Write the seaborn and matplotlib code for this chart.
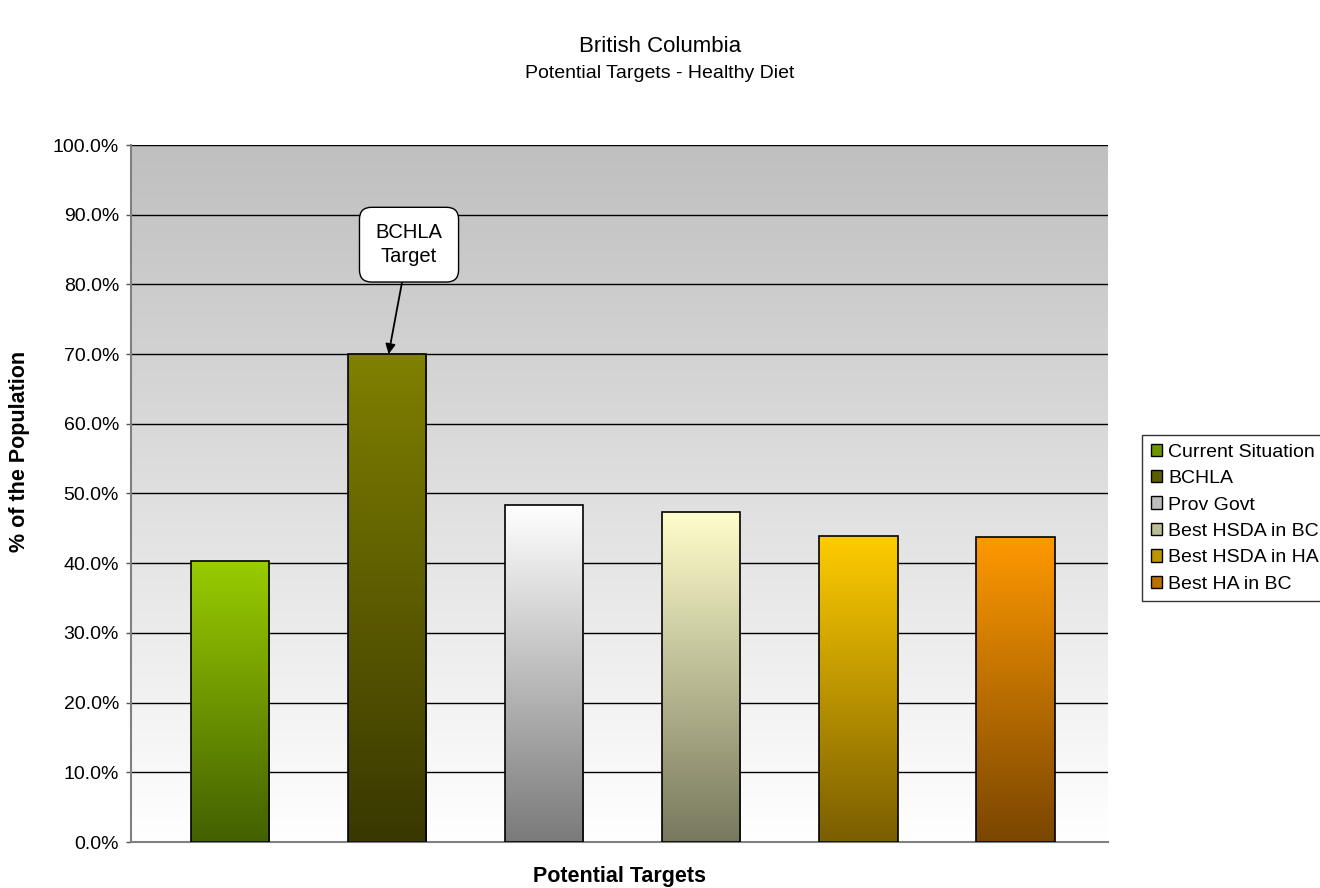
import numpy as np
import pandas as pd
import matplotlib.pyplot as plt
import matplotlib.patches as mpatches
import matplotlib.colors as mcolors
import seaborn as sns

targets = ["Current Situation", "BCHLA", "Prov Govt",
           "Best HSDA in BC", "Best HSDA in HA", "Best HA in BC"]
values = [40.3, 70.0, 48.3, 47.4, 43.9, 43.8]
top_colors = ["#99cc00", "#808000", "#ffffff", "#ffffcc", "#ffcc00", "#ff9900"]
bottom_colors = ["#436000", "#393800", "#7a7a7a", "#78785e", "#7a5e00", "#7a4600"]

sns.set_theme(style="white")
plt.rcParams["font.family"] = ["Liberation Sans", "DejaVu Sans"]
for key in ["text.color", "axes.labelcolor", "xtick.color", "ytick.color"]:
    plt.rcParams[key] = "black"

df = pd.DataFrame({"target": targets, "value": values})

fig = plt.figure(figsize=(13.2, 8.88), dpi=100)
ax = fig.add_axes([131 / 1320, 1 - 842 / 888, (1108 - 131) / 1320, (842 - 145) / 888])

sns.barplot(data=df, x="target", y="value", hue="target", palette=top_colors,
            width=0.5, edgecolor="black", linewidth=1.2, legend=False, ax=ax, zorder=3)

xlo, xhi = -0.63, 5.59

# background gradient of the plot area: grey at top, white at bottom
bg = np.linspace(1.0, 0.75, 256).reshape(-1, 1)
ax.imshow(np.dstack([bg, bg, bg]), extent=[xlo, xhi, 0, 100], origin="lower",
          aspect="auto", zorder=0)

# vertical gradients inside the bars
for patch, c_top, c_bot in zip(ax.patches, top_colors, bottom_colors):
    x0, y0 = patch.get_x(), patch.get_y()
    w, h = patch.get_width(), patch.get_height()
    t = np.linspace(0, 1, 256).reshape(-1, 1, 1)
    a = np.array(mcolors.to_rgb(c_bot)).reshape(1, 1, 3)
    b = np.array(mcolors.to_rgb(c_top)).reshape(1, 1, 3)
    grad = a + (b - a) * t
    im = ax.imshow(grad, extent=[x0, x0 + w, y0, y0 + h], origin="lower",
                   aspect="auto", zorder=2.5)
    im.set_clip_path(patch)
    patch.set_facecolor("none")

ax.set_xlim(xlo, xhi)
ax.set_ylim(0, 100)

ax.set_yticks(np.arange(0, 101, 10))
ax.set_yticklabels([f"{v:.1f}%" for v in range(0, 101, 10)], fontsize=14)
ax.yaxis.grid(True, color="black", linewidth=1)
for gl in ax.get_ygridlines():
    gl.set_zorder(1)
ax.tick_params(axis="y", left=True, length=3.6, width=1, color="#555555", pad=5)
ax.set_xticks([])
ax.set_xlabel("Potential Targets", fontsize=15.5, fontweight="bold")
ax.set_ylabel("% of the Population", fontsize=15.5, fontweight="bold")
ax.xaxis.set_label_coords(0.5, -0.035)
ax.yaxis.set_label_coords(-0.1034, 0.56)

for side in ["top", "right"]:
    ax.spines[side].set_visible(False)
for side in ["left", "bottom"]:
    ax.spines[side].set_color("#808080")
    ax.spines[side].set_linewidth(1.5)

# legend
handles = [mpatches.Patch(facecolor=mcolors.to_hex(
    (np.array(mcolors.to_rgb(t)) + np.array(mcolors.to_rgb(b))) / 2),
    edgecolor="black", linewidth=1) for t, b in zip(top_colors, bottom_colors)]
leg = fig.legend(handles, targets, loc="upper left", bbox_to_anchor=(1142 / 1320, 1 - 435 / 888),
                 frameon=True, fancybox=False, fontsize=14, handlelength=0.6, handleheight=0.6,
                 handletextpad=0.3, labelspacing=0.48, borderpad=0.45, borderaxespad=0)
leg.get_frame().set_edgecolor("black")
leg.get_frame().set_linewidth(1)
leg.get_frame().set_facecolor("white")

# callout
ax.annotate("BCHLA\nTarget", xy=(1.01, 70), xytext=(1.14, 85.7), ha="center", va="center",
            fontsize=14.5, linespacing=1.3, zorder=6,
            bbox=dict(boxstyle="round,pad=0.8,rounding_size=0.6", fc="white", ec="black", lw=1),
            arrowprops=dict(arrowstyle="-|>", color="black", lw=1.3, shrinkA=0, shrinkB=0))

fig.text(0.5, 1 - 47 / 888, "British Columbia", ha="center", va="center", fontsize=16)
fig.text(0.5, 1 - 73 / 888, "Potential Targets - Healthy Diet", ha="center", va="center", fontsize=14)

fig.savefig("out.png", dpi=100)
